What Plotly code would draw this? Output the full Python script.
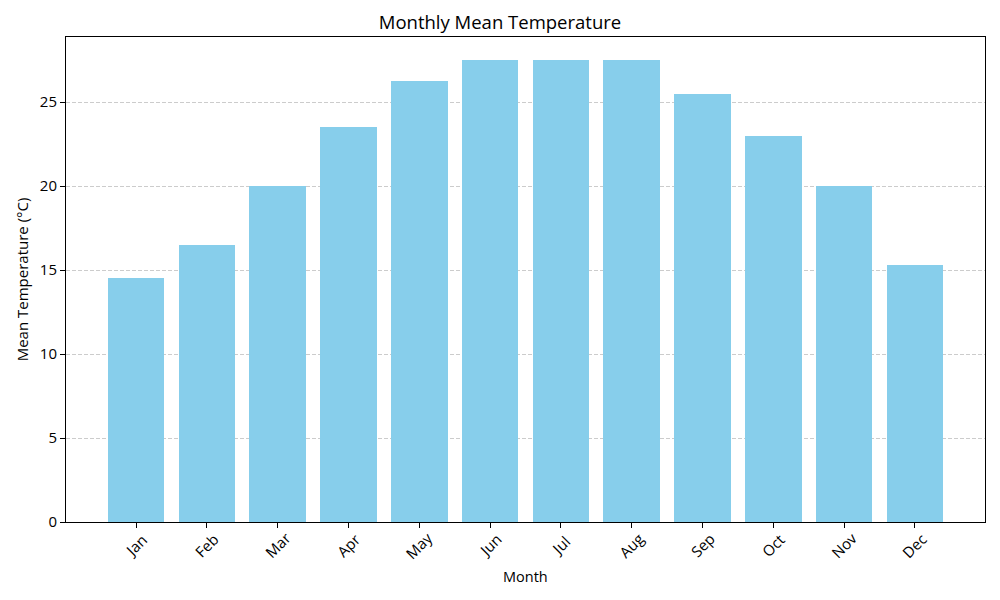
import plotly.graph_objects as go

months = ["Jan", "Feb", "Mar", "Apr", "May", "Jun", "Jul", "Aug", "Sep", "Oct", "Nov", "Dec"]
temps = [14.5, 16.5, 20.0, 23.5, 26.25, 27.5, 27.5, 27.5, 25.5, 23.0, 20.0, 15.3]
y_ticks = [0, 5, 10, 15, 20, 25]

FONT = "Open Sans, Roboto, sans-serif"

fig = go.Figure()
fig.add_trace(go.Bar(x=months, y=temps, width=0.8, marker=dict(color="#87CEEB", line=dict(width=0))))

# rotated tick labels centred under each tick (matplotlib-style)
for m in months:
    fig.add_annotation(x=m, y=-0.048, xref="x", yref="paper", text=m, showarrow=False,
                       textangle=-45, font=dict(family=FONT, size=15, color="#000"),
                       xanchor="center", yanchor="middle")

fig.add_annotation(x=0.5, y=-0.113, xref="paper", yref="paper", text="Month", showarrow=False,
                   font=dict(family=FONT, size=14.5, color="#000"), xanchor="center", yanchor="middle")

span = len(months) - 1 + 0.8
pad = span * 0.05
fig.update_layout(
    width=1000, height=600,
    paper_bgcolor="white", plot_bgcolor="white",
    margin=dict(l=66, r=15, t=37, b=78),
    font=dict(family=FONT, size=15, color="#000"),
    title=dict(text="Monthly Mean Temperature", x=0.5, xanchor="center", y=0.963, yanchor="middle",
               font=dict(family=FONT, size=18.5, color="#000")),
    showlegend=False,
    bargap=0,
)
fig.update_xaxes(
    type="category", range=[-0.4 - pad, len(months) - 1 + 0.4 + pad], automargin=False,
    showticklabels=False, ticks="outside", ticklen=5, tickcolor="#000", tickwidth=1,
    showline=True, linecolor="#000", linewidth=1, mirror=True, showgrid=False,
)
fig.update_yaxes(
    range=[0, max(temps) * 1.05], tickvals=y_ticks, automargin=False,
    ticks="outside", ticklen=5, tickcolor="#000", tickwidth=1,
    showline=True, linecolor="#000", linewidth=1, mirror=True,
    showgrid=True, gridcolor="#cccccc", griddash="4px,2px", gridwidth=1,
    zeroline=False, tickfont=dict(family=FONT, size=15),
    title=dict(text="Mean Temperature (°C)", font=dict(family=FONT, size=15), standoff=7),
)
fig.write_html("out.html", config={"displayModeBar": False},
               post_script="document.body.style.margin='0';document.body.style.padding='0';")
